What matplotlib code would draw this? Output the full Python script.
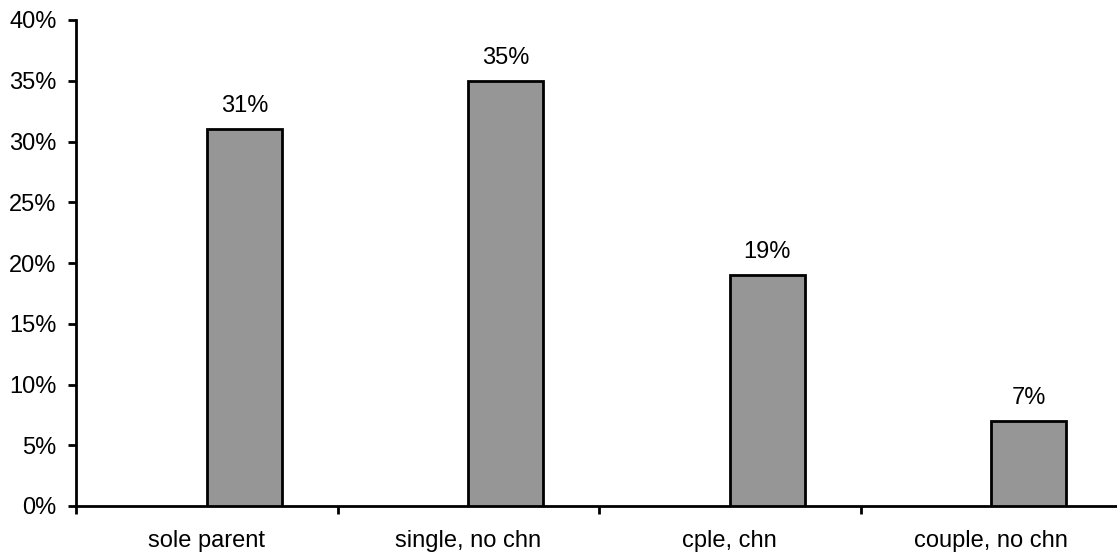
import numpy as np
import matplotlib.pyplot as plt
from matplotlib.ticker import PercentFormatter

plt.rcParams['font.family'] = ['Liberation Sans', 'DejaVu Sans']

categories = ["sole parent", "single, no chn", "cple, chn", "couple, no chn"]
shares = [31, 35, 19, 7]
yticks = [0, 5, 10, 15, 20, 25, 30, 35, 40]

fig = plt.figure(figsize=(11.17, 5.56), dpi=100)
ax = fig.add_axes([76 / 1117, 1 - 506 / 556, 1046 / 1117, 486 / 556])

x = np.arange(len(categories))
bars = ax.bar(x, shares, width=0.287, align='edge', color='#969696',
              edgecolor='black', linewidth=2, zorder=3)
for b, v in zip(bars, shares):
    ax.text(b.get_x() + b.get_width() / 2, v + 1.0, f"{v}%",
            ha='center', va='bottom', fontsize=17)

ax.set_xlim(-0.5, len(categories) - 0.5)
ax.set_ylim(0, 40)
ax.set_yticks(yticks)
ax.yaxis.set_major_formatter(PercentFormatter(decimals=0))
ax.set_xticks(np.arange(len(categories) + 1) - 0.5)
ax.set_xticklabels([])
ax.set_xticks(x, minor=True)
ax.set_xticklabels(categories, minor=True)
ax.tick_params(axis='x', which='minor', length=0, pad=17, labelsize=17)
ax.tick_params(axis='x', which='major', length=6, width=2, direction='out')
ax.tick_params(axis='y', length=6, width=2, direction='out', labelsize=17, pad=8)

for s in ['top', 'right']:
    ax.spines[s].set_visible(False)
for s in ['left', 'bottom']:
    ax.spines[s].set_linewidth(2)

fig.savefig('out.png', dpi=100)
